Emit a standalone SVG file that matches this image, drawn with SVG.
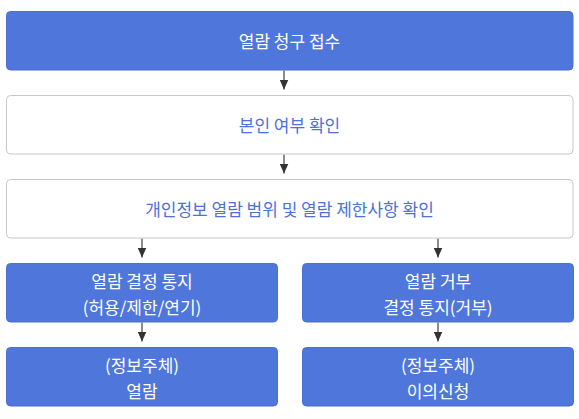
<svg xmlns="http://www.w3.org/2000/svg" width="579" height="419" viewBox="0 0 579 419">
<style>
.b{fill:#4f77db;stroke:#4a6fcf;stroke-width:1}
.w{fill:#ffffff;stroke:#c8c8c8;stroke-width:1}
text{font-family:"Noto Sans CJK KR","Noto Sans",sans-serif;font-size:17px;text-anchor:middle;dominant-baseline:central}
.tw{fill:#ffffff}
.tb{fill:#4a72d9}
.c{stroke:#666666;stroke-width:1.5;fill:none;marker-end:url(#ah)}
</style>
<defs>
<marker id="ah" markerWidth="10" markerHeight="9" refX="10" refY="4.5" orient="auto" markerUnits="userSpaceOnUse" viewBox="0 0 10 9">
<path d="M0,0 L10,4.5 L0,9 Z" fill="#333333"/>
</marker>
</defs>
<rect x="0" y="0" width="579" height="419" fill="#ffffff"/>
<g id="connectors">
<line class="c" x1="284" y1="70.5" x2="284" y2="89.5"/>
<line class="c" x1="284" y1="154.5" x2="284" y2="173.5"/>
<line class="c" x1="142" y1="238.5" x2="142" y2="257.5"/>
<line class="c" x1="438" y1="238.5" x2="438" y2="257.5"/>
<line class="c" x1="142" y1="322.5" x2="142" y2="341.5"/>
<line class="c" x1="438" y1="322.5" x2="438" y2="341.5"/>
</g>
<g id="n1">
<rect class="b" x="6.5" y="11.5" width="566.5" height="58.5" rx="4"/>
<text class="tw" x="289.5" y="40.5">열람 청구 접수</text>
</g>
<g id="n2">
<rect class="w" x="6.5" y="95.5" width="566.5" height="58.5" rx="4"/>
<text class="tb" x="289.5" y="124.5">본인 여부 확인</text>
</g>
<g id="n3">
<rect class="w" x="6.5" y="179.5" width="566.5" height="58.5" rx="4"/>
<text class="tb" x="289.5" y="208.5">개인정보 열람 범위 및 열람 제한사항 확인</text>
</g>
<g id="n4">
<rect class="b" x="6.5" y="263.5" width="271" height="58.5" rx="4"/>
<text class="tw" x="142" y="280">열람 결정 통지</text>
<text class="tw" x="142" y="306">(허용/제한/연기)</text>
</g>
<g id="n5">
<rect class="b" x="302.5" y="263.5" width="271" height="58.5" rx="4"/>
<text class="tw" x="438" y="280">열람 거부</text>
<text class="tw" x="438" y="306">결정 통지(거부)</text>
</g>
<g id="n6">
<rect class="b" x="6.5" y="347.5" width="271" height="58.5" rx="4"/>
<text class="tw" x="142" y="364">(정보주체)</text>
<text class="tw" x="142" y="390">열람</text>
</g>
<g id="n7">
<rect class="b" x="302.5" y="347.5" width="271" height="58.5" rx="4"/>
<text class="tw" x="438" y="364">(정보주체)</text>
<text class="tw" x="438" y="390">이의신청</text>
</g>
</svg>
